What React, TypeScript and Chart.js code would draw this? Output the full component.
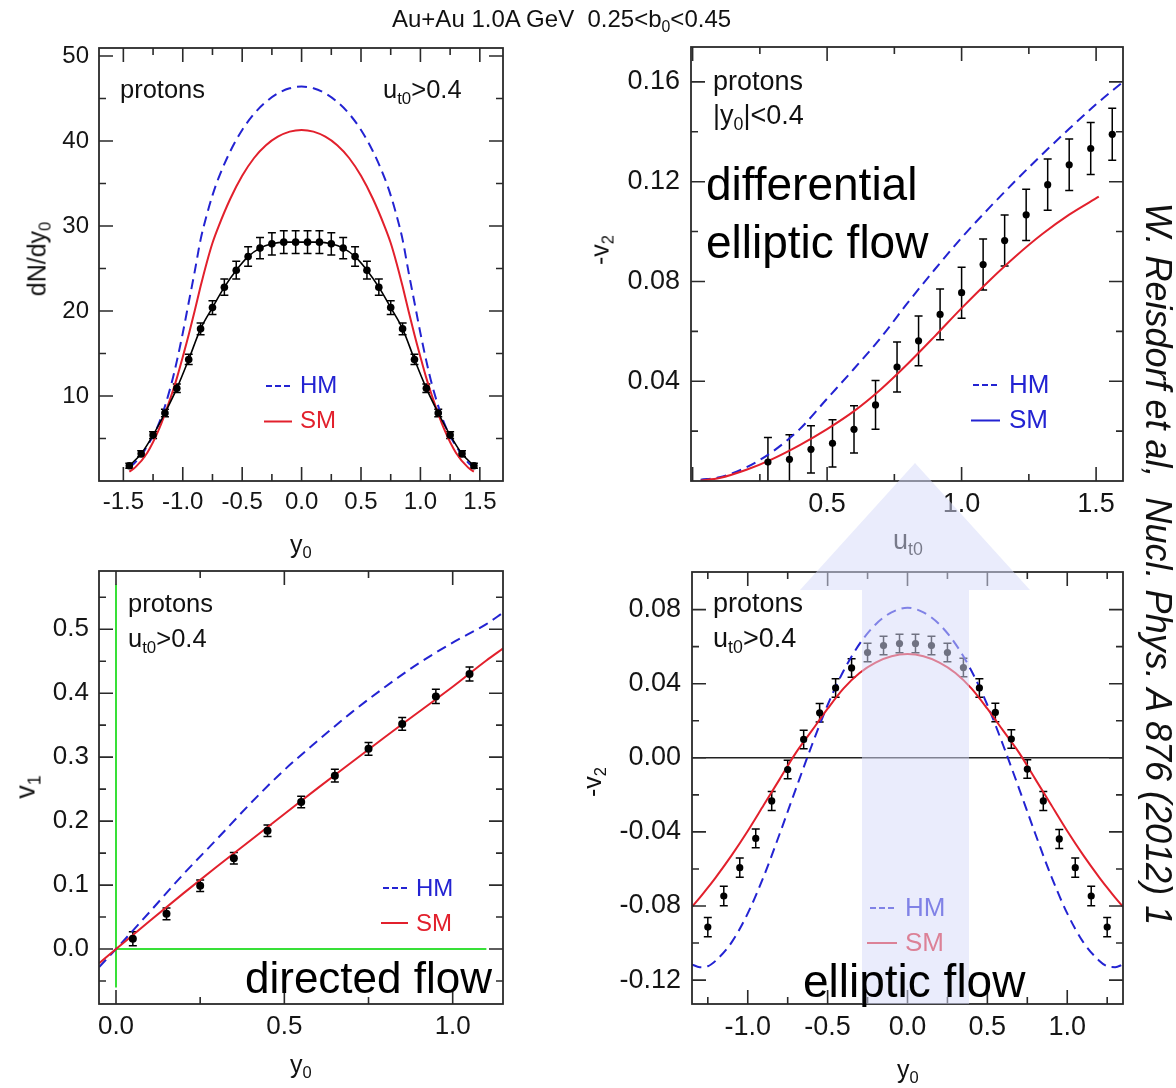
import React, { useEffect, useRef } from "react";
import { Chart, registerables } from "chart.js";
Chart.register(...registerables);

const PAGE_W = 1176;
const PAGE_H = 1088;
const FONT = "'Liberation Sans', Arial, Helvetica, sans-serif";
const BLUE = "#2323d2";
const RED = "#e2202c";
const GREEN = "#38e038";
const Y_AXIS_W = 100;
const X_AXIS_H = 60;

// ---------- Top-left: dN/dy0 vs y0 ----------
const tlY0 = [-1.45, -1.35, -1.25, -1.15, -1.05, -0.95, -0.85, -0.75, -0.65, -0.55, -0.45, -0.35, -0.25, -0.15, -0.05, 0.05, 0.15, 0.25, 0.35, 0.45, 0.55, 0.65, 0.75, 0.85, 0.95, 1.05, 1.15, 1.25, 1.35, 1.45];
const tlDN = [1.8, 3.2, 5.4, 8.0, 10.9, 14.3, 17.9, 20.4, 22.8, 24.8, 26.4, 27.4, 27.9, 28.1, 28.1, 28.1, 28.1, 27.9, 27.4, 26.4, 24.8, 22.8, 20.4, 17.9, 14.3, 10.9, 8.0, 5.4, 3.2, 1.8];
const tlErr = [0.3, 0.35, 0.4, 0.45, 0.5, 0.6, 0.7, 0.8, 0.95, 1.05, 1.15, 1.25, 1.3, 1.35, 1.35, 1.35, 1.35, 1.3, 1.25, 1.15, 1.05, 0.95, 0.8, 0.7, 0.6, 0.5, 0.45, 0.4, 0.35, 0.3];
const tlModelY0 = [-1.45, -1.4, -1.3, -1.2, -1.1, -1.05, -1.0, -0.95, -0.9, -0.85, -0.8, -0.75, -0.7, -0.6, -0.5, -0.4, -0.3, -0.2, -0.1, 0, 0.1, 0.2, 0.3, 0.4, 0.5, 0.6, 0.7, 0.75, 0.8, 0.85, 0.9, 0.95, 1.0, 1.05, 1.1, 1.2, 1.3, 1.4, 1.45];
const tlHM = [1.6, 2.2, 4.1, 6.8, 11.2, 14.1, 17.4, 21.0, 24.6, 28.4, 31.2, 33.6, 35.6, 38.8, 41.3, 43.2, 44.6, 45.6, 46.2, 46.4, 46.2, 45.6, 44.6, 43.2, 41.3, 38.8, 35.6, 33.6, 31.2, 28.4, 24.6, 21.0, 17.4, 14.1, 11.2, 6.8, 4.1, 2.2, 1.6];
const tlSM = [1.1, 1.6, 3.3, 6.1, 9.9, 12.1, 14.6, 17.2, 20.0, 22.9, 25.6, 28.0, 29.9, 33.2, 35.9, 38.0, 39.5, 40.5, 41.1, 41.3, 41.1, 40.5, 39.5, 38.0, 35.9, 33.2, 29.9, 28.0, 25.6, 22.9, 20.0, 17.2, 14.6, 12.1, 9.9, 6.1, 3.3, 1.6, 1.1];

// ---------- Top-right: -v2 vs ut0 ----------
const trUt0 = [0.28, 0.36, 0.44, 0.52, 0.60, 0.68, 0.76, 0.84, 0.92, 1.00, 1.08, 1.16, 1.24, 1.32, 1.40, 1.48, 1.56];
const trV2 = [0.0076, 0.0087, 0.0127, 0.0151, 0.0207, 0.0305, 0.0457, 0.0562, 0.0668, 0.0755, 0.0868, 0.0964, 0.1067, 0.1188, 0.1268, 0.1333, 0.1390];
const trErr = [0.0098, 0.0098, 0.0095, 0.0095, 0.0095, 0.0098, 0.0100, 0.0100, 0.0102, 0.0102, 0.0102, 0.0102, 0.0103, 0.0103, 0.0103, 0.0104, 0.0104];
const trHMx = [0.03, 0.1, 0.2, 0.3, 0.4, 0.5, 0.6, 0.7, 0.8, 0.9, 1.0, 1.1, 1.2, 1.3, 1.4, 1.5, 1.6];
const trHM = [0.0005, 0.0015, 0.0055, 0.012, 0.021, 0.033, 0.045, 0.0575, 0.0715, 0.0848, 0.0975, 0.1092, 0.1203, 0.131, 0.1412, 0.151, 0.16];
const trSMx = [0.03, 0.1, 0.2, 0.3, 0.4, 0.5, 0.6, 0.7, 0.8, 0.9, 1.0, 1.1, 1.2, 1.3, 1.4, 1.51];
const trSM = [0.0002, 0.0012, 0.0045, 0.009, 0.0145, 0.0208, 0.028, 0.0368, 0.047, 0.058, 0.0693, 0.08, 0.09, 0.099, 0.1068, 0.114];

// ---------- Bottom-left: v1 vs y0 ----------
const blY0 = [0.05, 0.15, 0.25, 0.35, 0.45, 0.55, 0.65, 0.75, 0.85, 0.95, 1.05];
const blV1 = [0.016, 0.055, 0.099, 0.142, 0.185, 0.230, 0.271, 0.313, 0.352, 0.395, 0.430];
const blErr = [0.011, 0.009, 0.009, 0.009, 0.009, 0.009, 0.01, 0.01, 0.01, 0.011, 0.011];
const blModelY0 = [-0.05, 0, 0.1, 0.2, 0.3, 0.4, 0.5, 0.6, 0.7, 0.8, 0.9, 1.0, 1.1, 1.15];
const blHM = [-0.028, 0, 0.058, 0.117, 0.172, 0.228, 0.28, 0.326, 0.37, 0.41, 0.447, 0.479, 0.508, 0.526];
const blSM = [-0.022, 0, 0.044, 0.087, 0.129, 0.170, 0.211, 0.252, 0.292, 0.332, 0.371, 0.41, 0.451, 0.47];
const blGreenVx = [0, 0];
const blGreenVy = [-0.06, 0.57];
const blGreenHx = [0, 1.1];
const blGreenHy = [0, 0];

// ---------- Bottom-right: -v2 vs y0 ----------
const brY0 = [-1.25, -1.15, -1.05, -0.95, -0.85, -0.75, -0.65, -0.55, -0.45, -0.35, -0.25, -0.15, -0.05, 0.05, 0.15, 0.25, 0.35, 0.45, 0.55, 0.65, 0.75, 0.85, 0.95, 1.05, 1.15, 1.25];
const brV2 = [-0.0914, -0.0746, -0.0593, -0.0435, -0.0233, -0.0063, 0.0099, 0.0243, 0.0377, 0.0485, 0.0568, 0.0606, 0.0617, 0.0617, 0.0606, 0.0568, 0.0487, 0.0377, 0.0245, 0.0101, -0.0061, -0.0233, -0.0438, -0.0593, -0.0746, -0.0914];
const brErr = [0.0052, 0.0052, 0.0052, 0.0051, 0.0051, 0.005, 0.005, 0.005, 0.005, 0.005, 0.005, 0.005, 0.005, 0.005, 0.005, 0.005, 0.005, 0.005, 0.005, 0.005, 0.005, 0.0051, 0.0051, 0.0052, 0.0052, 0.0052];
const brModelY0 = [-1.35, -1.3, -1.25, -1.2, -1.1, -1.0, -0.9, -0.8, -0.7, -0.6, -0.5, -0.4, -0.3, -0.2, -0.1, 0, 0.1, 0.2, 0.3, 0.4, 0.5, 0.6, 0.7, 0.8, 0.9, 1.0, 1.1, 1.2, 1.25, 1.3, 1.35];
const brHM = [-0.1115, -0.113, -0.1125, -0.1095, -0.0995, -0.084, -0.064, -0.041, -0.017, 0.0065, 0.0285, 0.047, 0.0615, 0.072, 0.0785, 0.081, 0.0785, 0.072, 0.0615, 0.047, 0.0285, 0.0065, -0.017, -0.041, -0.064, -0.084, -0.0995, -0.1095, -0.1125, -0.113, -0.1115];
const brSM = [-0.0805, -0.0755, -0.0701, -0.0645, -0.0525, -0.0395, -0.0255, -0.0115, 0.0025, 0.0145, 0.0265, 0.0375, 0.0458, 0.0514, 0.0548, 0.056, 0.0548, 0.0514, 0.0458, 0.0375, 0.0265, 0.0145, 0.0025, -0.0115, -0.0255, -0.0395, -0.0525, -0.0645, -0.0701, -0.0755, -0.0805];
const brZeroX = [-1.35, 1.35];
const brZeroY = [0, 0];

// ---------- helpers ----------
const pts = (xs: number[], ys: number[]) => xs.map((x, i) => ({ x, y: ys[i] }));

function isMajor(v: number, step: number) {
  const q = v / step;
  return Math.abs(q - Math.round(q)) < 1e-6;
}

const panelPlugin = {
  id: "panelFrame",
  beforeDatasetsDraw(chart: any) {
    const { ctx, chartArea: a, scales } = chart;
    chart.data.datasets.forEach((ds: any, i: number) => {
      if (!ds.errors) return;
      const meta = chart.getDatasetMeta(i);
      const ys = scales.y;
      ctx.save();
      ctx.beginPath();
      ctx.rect(a.left, a.top, a.right - a.left, a.bottom - a.top);
      ctx.clip();
      ctx.strokeStyle = "#000";
      ctx.lineWidth = 1.5;
      const cap = ds.capHalf || 4;
      meta.data.forEach((el: any, j: number) => {
        const v = ds.data[j].y;
        const e = ds.errors[j];
        const x = el.x;
        const y1 = ys.getPixelForValue(v + e);
        const y2 = ys.getPixelForValue(v - e);
        ctx.beginPath();
        ctx.moveTo(x, y1);
        ctx.lineTo(x, y2);
        ctx.moveTo(x - cap, y1);
        ctx.lineTo(x + cap, y1);
        ctx.moveTo(x - cap, y2);
        ctx.lineTo(x + cap, y2);
        ctx.stroke();
      });
      ctx.restore();
    });
  },
  afterDraw(chart: any, _args: any, opts: any) {
    const { ctx, chartArea: a, scales } = chart;
    ctx.save();
    ctx.strokeStyle = "#2a2a2a";
    ctx.lineWidth = 1.6;
    const big = 14;
    const small = 7;
    scales.x.ticks.forEach((t: any) => {
      const px = scales.x.getPixelForValue(t.value);
      if (px < a.left + 1 || px > a.right - 1) return;
      const len = isMajor(t.value, opts.xMajor) ? big : small;
      ctx.beginPath();
      ctx.moveTo(px, a.bottom);
      ctx.lineTo(px, a.bottom - len);
      ctx.moveTo(px, a.top);
      ctx.lineTo(px, a.top + len);
      ctx.stroke();
    });
    scales.y.ticks.forEach((t: any) => {
      const py = scales.y.getPixelForValue(t.value);
      if (py < a.top + 1 || py > a.bottom - 1) return;
      const len = isMajor(t.value, opts.yMajor) ? big : small;
      ctx.beginPath();
      ctx.moveTo(a.left, py);
      ctx.lineTo(a.left + len, py);
      ctx.moveTo(a.right, py);
      ctx.lineTo(a.right - len, py);
      ctx.stroke();
    });
    ctx.lineWidth = 1.8;
    ctx.strokeRect(a.left, a.top, a.right - a.left, a.bottom - a.top);
    ctx.restore();
  },
};

type Box = { l: number; t: number; r: number; b: number };
type AxisOpt = { min: number; max: number; step: number; major: number; size: number; pad: number; fmt: (v: number) => string };

function makeConfig(box: Box, xo: AxisOpt, yo: AxisOpt, datasets: any[]) {
  return {
    type: "line",
    data: { datasets },
    options: {
      responsive: false,
      maintainAspectRatio: false,
      animation: false,
      devicePixelRatio: 1,
      events: [],
      layout: {
        padding: {
          left: box.l - Y_AXIS_W,
          top: box.t,
          right: PAGE_W - box.r,
          bottom: PAGE_H - box.b - X_AXIS_H,
        },
      },
      plugins: {
        legend: { display: false },
        tooltip: { enabled: false },
        panelFrame: { xMajor: xo.major, yMajor: yo.major },
      },
      scales: {
        x: {
          type: "linear",
          min: xo.min,
          max: xo.max,
          afterFit: (s: any) => {
            s.height = X_AXIS_H;
          },
          grid: { display: false, drawTicks: false },
          border: { display: false },
          ticks: {
            stepSize: xo.step,
            includeBounds: false,
            autoSkip: false,
            maxRotation: 0,
            minRotation: 0,
            padding: xo.pad,
            color: "#151515",
            font: { family: FONT, size: xo.size },
            callback: (v: any) => xo.fmt(Number(v)),
          },
        },
        y: {
          type: "linear",
          min: yo.min,
          max: yo.max,
          afterFit: (s: any) => {
            s.width = Y_AXIS_W;
          },
          grid: { display: false, drawTicks: false },
          border: { display: false },
          ticks: {
            stepSize: yo.step,
            includeBounds: false,
            autoSkip: false,
            padding: yo.pad,
            color: "#151515",
            font: { family: FONT, size: yo.size },
            callback: (v: any) => yo.fmt(Number(v)),
          },
        },
      },
    },
    plugins: [panelPlugin],
  };
}

const dataSet = (xs: number[], ys: number[], errs: number[], r: number, lineW: number) => ({
  data: pts(xs, ys),
  errors: errs,
  borderColor: "#000",
  backgroundColor: "#000",
  pointRadius: r,
  pointBorderWidth: 0,
  pointBackgroundColor: "#000",
  showLine: lineW > 0,
  borderWidth: lineW,
  cubicInterpolationMode: "monotone",
  fill: false,
});

const curve = (xs: number[], ys: number[], color: string, dash: number[], w = 2) => ({
  data: pts(xs, ys),
  borderColor: color,
  backgroundColor: color,
  borderWidth: w,
  borderDash: dash,
  pointRadius: 0,
  cubicInterpolationMode: "monotone",
  fill: false,
});

const fmt1 = (step: number, skipZero: boolean) => (v: number) => {
  if (!isMajor(v, step)) return "";
  if (skipZero && Math.abs(v) < 1e-9) return "";
  return Math.abs(v) < 1e-9 ? (0).toFixed(1) : v.toFixed(1);
};
const fmt2 = (step: number, skipZero: boolean) => (v: number) => {
  if (!isMajor(v, step)) return "";
  if (skipZero && Math.abs(v) < 1e-9) return "";
  return Math.abs(v) < 1e-9 ? "0.00" : v.toFixed(2);
};
const fmtInt = (step: number) => (v: number) => {
  if (!isMajor(v, step) || Math.abs(v) < 1e-9) return "";
  return String(Math.round(v));
};

const configTL = () =>
  makeConfig(
    { l: 99, t: 48, r: 503, b: 481 },
    { min: -1.705, max: 1.695, step: 0.25, major: 0.5, size: 24, pad: 7, fmt: fmt1(0.5, false) },
    { min: 0, max: 50.94, step: 5, major: 10, size: 24, pad: 10, fmt: fmtInt(10) },
    [
      dataSet(tlY0, tlDN, tlErr, 3.8, 1.6),
      curve(tlModelY0, tlSM, RED, []),
      curve(tlModelY0, tlHM, BLUE, [10, 6]),
    ]
  );

const configTR = () =>
  makeConfig(
    { l: 691, t: 47, r: 1123, b: 481 },
    { min: -0.006, max: 1.6, step: 0.25, major: 0.5, size: 27, pad: 7, fmt: fmt1(0.5, true) },
    { min: 0, max: 0.174, step: 0.02, major: 0.04, size: 27, pad: 11, fmt: fmt2(0.04, true) },
    [
      dataSet(trUt0, trV2, trErr, 3.6, 0),
      curve(trSMx, trSM, RED, []),
      curve(trHMx, trHM, BLUE, [10, 6]),
    ]
  );

const configBL = () =>
  makeConfig(
    { l: 99, t: 571, r: 503, b: 1004 },
    { min: -0.0505, max: 1.1494, step: 0.25, major: 0.5, size: 26, pad: 7, fmt: fmt1(0.5, false) },
    { min: -0.0859, max: 0.591, step: 0.05, major: 0.1, size: 26, pad: 10, fmt: fmt1(0.1, false) },
    [
      dataSet(blY0, blV1, blErr, 4, 0),
      curve(blModelY0, blSM, RED, []),
      curve(blModelY0, blHM, BLUE, [10, 6]),
      curve(blGreenVx, blGreenVy, GREEN, [], 2),
      curve(blGreenHx, blGreenHy, GREEN, [], 2),
    ]
  );

const configBR = () =>
  makeConfig(
    { l: 692, t: 572, r: 1123, b: 1004 },
    { min: -1.349, max: 1.349, step: 0.25, major: 0.5, size: 27, pad: 7, fmt: fmt1(0.5, false) },
    { min: -0.1329, max: 0.1003, step: 0.02, major: 0.04, size: 27, pad: 11, fmt: fmt2(0.04, false) },
    [
      dataSet(brY0, brV2, brErr, 3.6, 0),
      curve(brModelY0, brSM, RED, []),
      curve(brModelY0, brHM, BLUE, [10, 6]),
      curve(brZeroX, brZeroY, "#222", [], 1.5),
    ]
  );

function Panel({ make }: { make: () => any }) {
  const ref = useRef<HTMLCanvasElement | null>(null);
  useEffect(() => {
    if (!ref.current) return;
    const c = new Chart(ref.current, make());
    return () => c.destroy();
  }, []);
  return (
    <canvas
      ref={ref}
      width={PAGE_W}
      height={PAGE_H}
      style={{ position: "absolute", left: 0, top: 0, width: PAGE_W, height: PAGE_H, pointerEvents: "none" }}
    />
  );
}

const Sub = ({ children }: any) => (
  <span style={{ fontSize: "0.66em", position: "relative", top: "0.32em", lineHeight: 0 }}>{children}</span>
);

const T = ({ x, y, s, c = "#111", it = false, children }: any) => (
  <div
    style={{
      position: "absolute",
      left: x,
      top: y - 0.847 * s,
      fontSize: s,
      lineHeight: 1,
      color: c,
      fontFamily: FONT,
      fontStyle: it ? "italic" : "normal",
      whiteSpace: "nowrap",
    }}
  >
    {children}
  </div>
);

const R = ({ cx, cy, s, deg, c = "#111", it = false, children }: any) => (
  <div
    style={{
      position: "absolute",
      left: cx,
      top: cy,
      transform: `translate(-50%, -50%) rotate(${deg}deg)`,
      fontSize: s,
      lineHeight: 1,
      color: c,
      fontFamily: FONT,
      fontStyle: it ? "italic" : "normal",
      whiteSpace: "nowrap",
    }}
  >
    {children}
  </div>
);

export default function App() {
  useEffect(() => {
    document.body.style.margin = "0";
    document.body.style.background = "#fff";
  }, []);
  return (
    <div style={{ position: "relative", width: PAGE_W, height: PAGE_H, overflow: "hidden", background: "#fff" }}>
      <Panel make={configTL} />
      <Panel make={configTR} />
      <Panel make={configBL} />
      <Panel make={configBR} />

      {/* panel annotations */}
      <T x={120} y={99} s={25.5}>protons</T>
      <T x={383} y={99} s={25.5}>u<Sub>t0</Sub>&gt;0.4</T>
      <T x={713} y={91} s={27}>protons</T>
      <T x={713} y={125} s={27}>|y<Sub>0</Sub>|&lt;0.4</T>
      <T x={128} y={613} s={25.5}>protons</T>
      <T x={128} y={648} s={25.5}>u<Sub>t0</Sub>&gt;0.4</T>
      <T x={713} y={613} s={27}>protons</T>
      <T x={713} y={648} s={27}>u<Sub>t0</Sub>&gt;0.4</T>

      {/* legends */}
      <T x={300} y={393} s={24} c={BLUE}>HM</T>
      <T x={300} y={428} s={24} c={RED}>SM</T>
      <T x={1009} y={393} s={26} c={BLUE}>HM</T>
      <T x={1009} y={428} s={26} c={BLUE}>SM</T>
      <T x={416} y={896} s={24} c={BLUE}>HM</T>
      <T x={416} y={931} s={24} c={RED}>SM</T>
      <T x={905} y={916} s={26} c={BLUE}>HM</T>
      <T x={905} y={951} s={26} c={RED}>SM</T>

      {/* axis titles */}
      <R cx={37} cy={259} s={25} deg={-90}>dN/dy<Sub>0</Sub></R>
      <T x={290} y={553} s={25}>y<Sub>0</Sub></T>
      <R cx={600} cy={250} s={25} deg={-90}>-v<Sub>2</Sub></R>
      <T x={893} y={550} s={27}>u<Sub>t0</Sub></T>
      <R cx={26} cy={787} s={27} deg={-90}>v<Sub>1</Sub></R>
      <T x={290} y={1073} s={25}>y<Sub>0</Sub></T>
      <R cx={592} cy={782} s={25} deg={-90}>-v<Sub>2</Sub></R>
      <T x={897} y={1078} s={25}>y<Sub>0</Sub></T>

      <svg width={PAGE_W} height={PAGE_H} style={{ position: "absolute", left: 0, top: 0, pointerEvents: "none" }}>
        <line x1={266} y1={386} x2={291} y2={386} stroke={BLUE} strokeWidth={2} strokeDasharray="6 3" />
        <line x1={264} y1={421.5} x2={292} y2={421.5} stroke={RED} strokeWidth={2} />
        <line x1={973} y1={385} x2={999} y2={385} stroke={BLUE} strokeWidth={2} strokeDasharray="6 3" />
        <line x1={971} y1={420.5} x2={1000} y2={420.5} stroke={BLUE} strokeWidth={2} />
        <line x1={383} y1={888} x2={408} y2={888} stroke={BLUE} strokeWidth={2} strokeDasharray="6 3" />
        <line x1={381} y1={923} x2={408} y2={923} stroke={RED} strokeWidth={2} />
        <line x1={870} y1={908} x2={896} y2={908} stroke={BLUE} strokeWidth={2} strokeDasharray="6 3" />
        <line x1={867} y1={943} x2={897} y2={943} stroke={RED} strokeWidth={2} />
        <polygon
          points="862,1004 862,590 800,590 915,463 1030,590 969,590 969,1004"
          fill="rgb(214,219,250)"
          fillOpacity={0.52}
        />
      </svg>

      {/* big labels */}
      <T x={706} y={200} s={46} c="#000">differential</T>
      <T x={706} y={258} s={46} c="#000">elliptic flow</T>
      <T x={245} y={993} s={44} c="#000">directed flow</T>
      <T x={803} y={997} s={46} c="#000">elliptic flow</T>

      {/* title and citation */}
      <T x={392} y={27} s={24}>Au+Au 1.0A GeV&nbsp;&nbsp;0.25&lt;b<Sub>0</Sub>&lt;0.45</T>
      <R cx={1158} cy={564} s={36} deg={90} it>
        W. Reisdorf et al,&nbsp;&nbsp;Nucl. Phys. A 876 (2012) 1
      </R>
    </div>
  );
}
